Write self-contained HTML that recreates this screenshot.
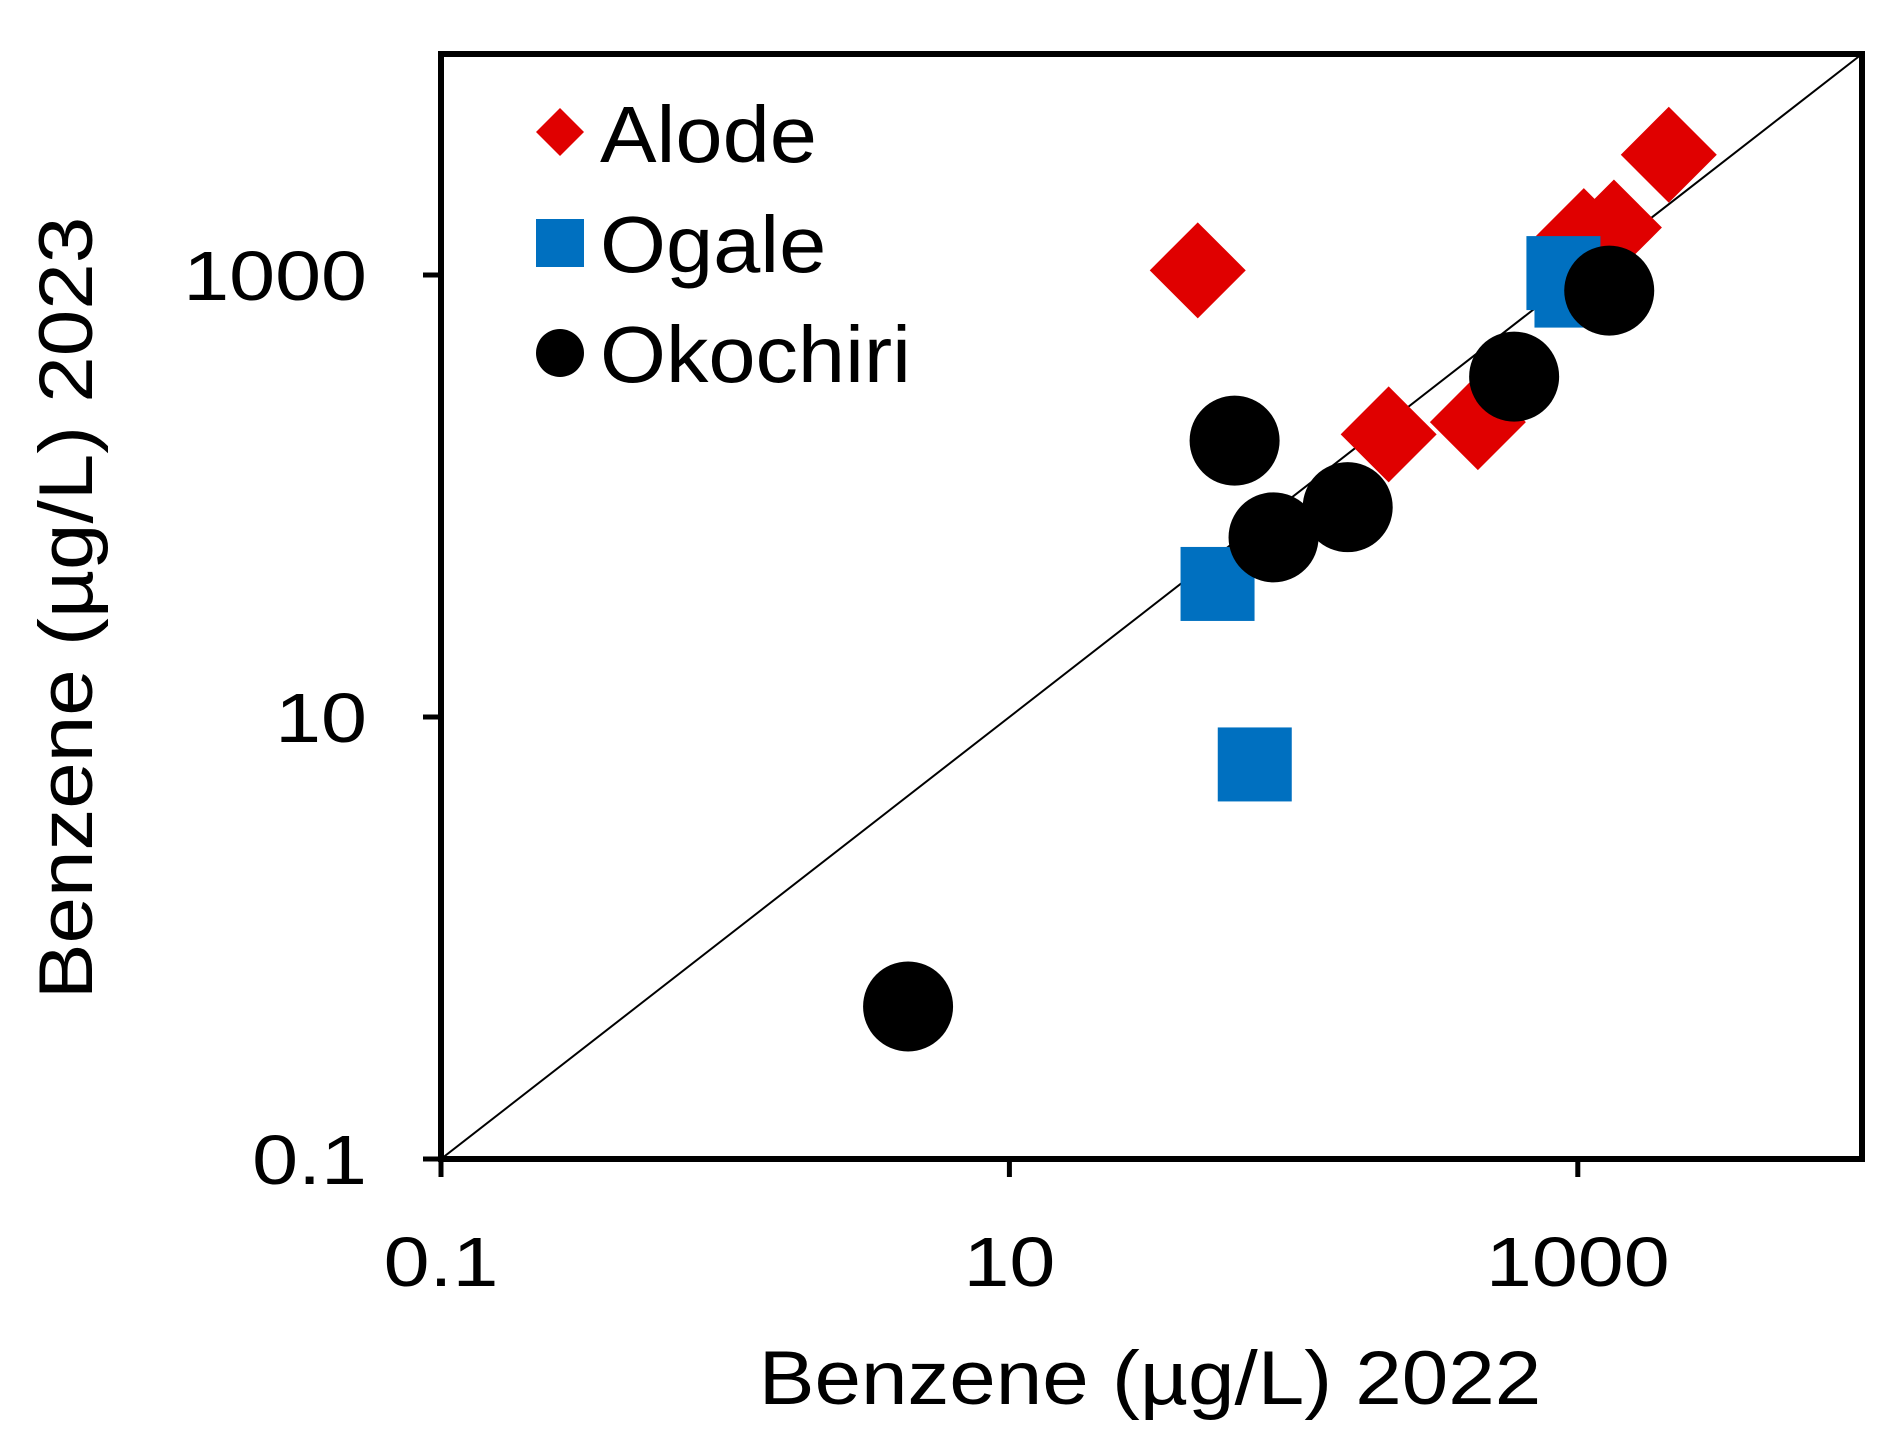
<!DOCTYPE html>
<html><head><meta charset="utf-8"><style>
html,body{margin:0;padding:0;background:#fff;}
svg{display:block;font-family:"Liberation Sans",Arial,sans-serif;}
</style></head><body>
<svg id="chart" width="1899" height="1453" viewBox="0 0 1899 1453">
<g id="plot"></g>
</svg>
<script>
const xTicks=[0.1,10,1000];
const yTicks=[0.1,10,1000];
const tickLabels=["0.1","10","1000"];
const alodeX=[46,2090,1340,1050,216,445];
const alodeY=[1050,3500,1640,1500,190,216];
const ogaleX=[54,73,890,950];
const ogaleY=[40,6.1,1020,850];
const okoX=[4.4,62,85,155,597,1290];
const okoY=[0.49,178,65,89,347,850];

const L=441,R=1862,T=54,B=1159;
const lmin=-1,lmax=4;
function sx(v){return L+(Math.log10(v)-lmin)/(lmax-lmin)*(R-L);}
function sy(v){return B-(Math.log10(v)-lmin)/(lmax-lmin)*(B-T);}
const NS="http://www.w3.org/2000/svg";
const g=document.getElementById('plot');
function mk(tag,attrs,parent){const e=document.createElementNS(NS,tag);for(const k in attrs)e.setAttribute(k,attrs[k]);(parent||g).appendChild(e);return e;}
function stretch(t,f){const w=t.getComputedTextLength();t.setAttribute('textLength',w*f);t.setAttribute('lengthAdjust','spacingAndGlyphs');}

let d=mk('line',{x1:sx(0.1),y1:sy(0.1),x2:sx(10000),y2:sy(10000),stroke:'#000','stroke-width':2});



function diamond(x,y,s){return `${x},${y-s} ${x+s},${y} ${x},${y+s} ${x-s},${y}`;}
alodeX.forEach((v,i)=>{
 const p=mk('polygon',{points:diamond(sx(v),sy(alodeY[i]),48),fill:'#e00000'});
 
 
});
ogaleX.forEach((v,i)=>{
 const p=mk('rect',{x:sx(v)-37,y:sy(ogaleY[i])-37,width:74,height:74,fill:'#0070c0'});
 
 
});
okoX.forEach((v,i)=>{
 const p=mk('circle',{cx:sx(v),cy:sy(okoY[i]),r:45,fill:'#000'});
 
 
});

let fr=mk('rect',{x:L,y:T,width:R-L,height:B-T,fill:'none',stroke:'#000','stroke-width':6});



xTicks.forEach((v,i)=>{
 const t=mk('line',{x1:sx(v),y1:B,x2:sx(v),y2:B+18,stroke:'#000','stroke-width':5});
 
 
 const tx=mk('text',{x:sx(v),y:1286,'text-anchor':'middle','font-size':70});
 tx.textContent=tickLabels[i];
 
 
 stretch(tx,1.18);
});
yTicks.forEach((v,i)=>{
 const t=mk('line',{x1:L-18,y1:sy(v),x2:L,y2:sy(v),stroke:'#000','stroke-width':5});
 
 
 const tx=mk('text',{x:367,y:sy(v)+25,'text-anchor':'end','font-size':70});
 tx.textContent=tickLabels[i];
 
 
 stretch(tx,1.18);
});

let xt=mk('text',{x:1150,y:1404,'text-anchor':'middle','font-size':76});
xt.textContent='Benzene (µg/L) 2022';


stretch(xt,1.1);
let yt=mk('text',{x:0,y:0,'text-anchor':'middle','font-size':76,transform:'translate(92,608) rotate(-90)'});
yt.textContent='Benzene (µg/L) 2023';


stretch(yt,1.1);

const lg=mk('g',{});


let m1=mk('polygon',{points:diamond(560,132,24),fill:'#e00000'},lg);


let m2=mk('rect',{x:536,y:219,width:48,height:48,fill:'#0070c0'},lg);


let m3=mk('circle',{cx:560,cy:353,r:24,fill:'#000'},lg);


[["Alode",162],["Ogale",272],["Okochiri",382]].forEach(([s,y])=>{
 const t=mk('text',{x:600,y:y,'font-size':80},lg);
 t.textContent=s;
 
 
 stretch(t,1.06);
});
</script>
</body></html>
